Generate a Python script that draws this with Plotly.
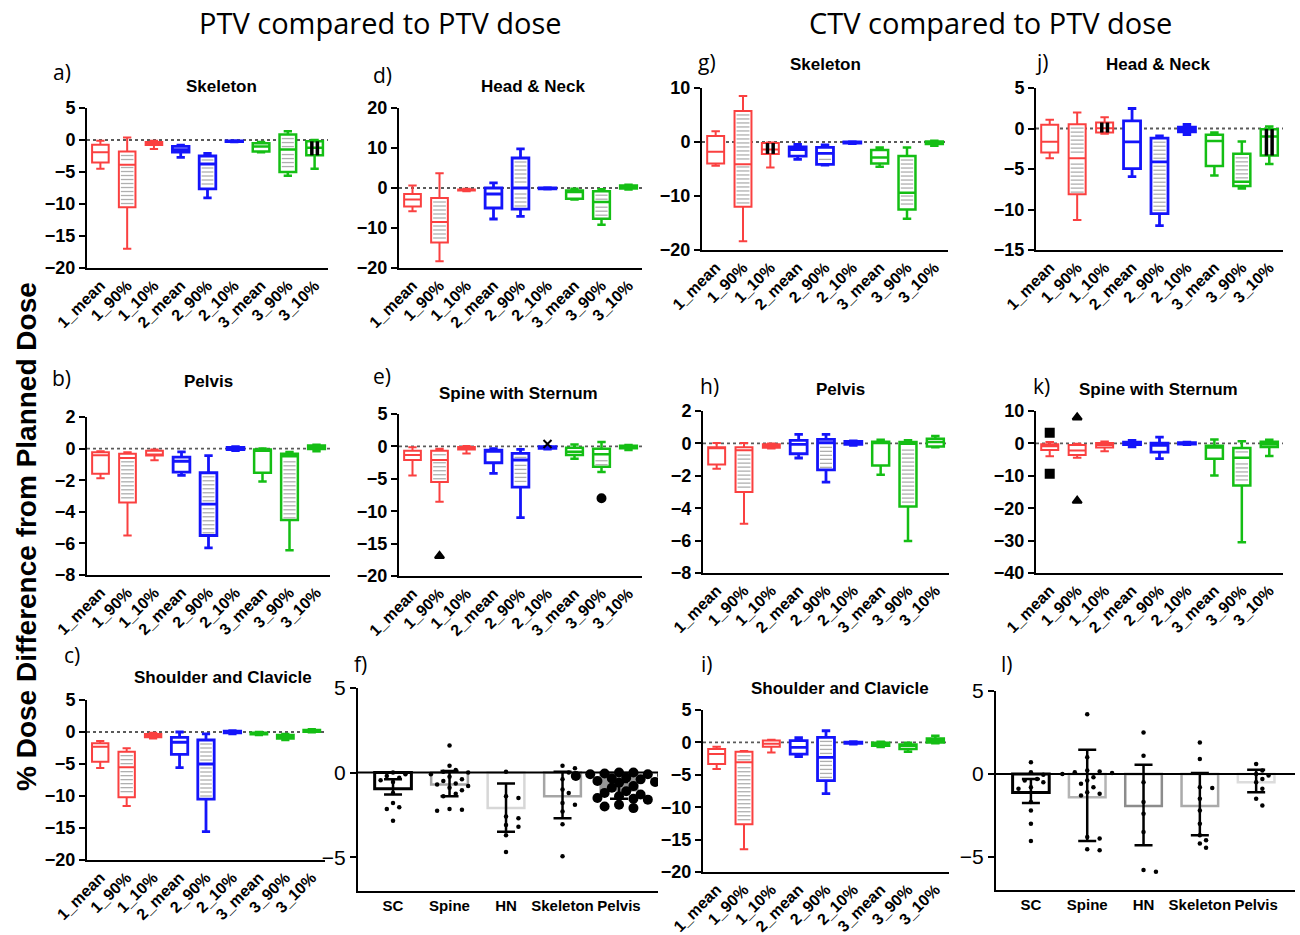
import math
import plotly.graph_objects as go

W, H = 1300, 935

CATS = ["1_mean", "1_90%", "1_10%", "2_mean", "2_90%", "2_10%", "3_mean", "3_90%", "3_10%"]
SITES = ["SC", "Spine", "HN", "Skeleton", "Pelvis"]

# ---------------- box statistics (upper whisker, Q3, median, Q1, lower whisker) ----------------
A_HI = [-0.1, 0.4, -0.1, -0.8, -2.1, -0.1, -0.3, 1.35, 0.0]
A_Q3 = [-0.73, -1.8, -0.3, -1.0, -2.5, -0.15, -0.5, 0.85, -0.2]
A_MED = [-1.9, -3.85, -0.6, -1.5, -3.75, -0.2, -1.0, -1.5, -1.2]
A_Q1 = [-3.5, -10.5, -0.8, -1.9, -7.65, -0.25, -1.8, -5.0, -2.4]
A_LO = [-4.5, -17.0, -1.4, -2.7, -9.05, -0.3, -1.9, -5.6, -4.5]

D_HI = [0.6, 3.7, -0.2, 1.3, 9.8, 0.1, -0.2, -0.3, 0.8]
D_Q3 = [-1.5, -2.5, -0.35, 0.0, 7.5, 0.0, -0.6, -0.8, 0.6]
D_MED = [-2.9, -8.5, -0.5, -1.5, 0.0, -0.1, -1.0, -3.5, 0.25]
D_Q1 = [-4.6, -13.6, -0.65, -5.0, -5.3, -0.2, -2.7, -7.7, -0.1]
D_LO = [-5.8, -18.3, -0.8, -7.75, -7.1, -0.3, -2.9, -9.2, -0.4]

G_HI = [2.0, 8.5, -0.1, -0.45, -0.55, 0.05, -1.0, -1.0, 0.25]
G_Q3 = [1.1, 5.75, -0.2, -0.9, -1.0, 0.0, -1.5, -2.6, 0.1]
G_MED = [-1.8, -4.1, -1.4, -1.4, -2.1, -0.1, -2.85, -9.4, -0.1]
G_Q1 = [-4.0, -12.0, -2.2, -2.6, -4.15, -0.2, -4.0, -12.5, -0.35]
G_LO = [-4.4, -18.4, -4.7, -3.2, -4.3, -0.3, -4.6, -14.2, -0.7]

J_HI = [1.07, 1.98, 1.4, 2.47, -0.9, 0.5, -0.5, -1.6, 0.25]
J_Q3 = [0.45, 0.54, 0.74, 0.95, -1.2, 0.16, -0.78, -3.13, -0.08]
J_MED = [-1.65, -3.67, 0.04, -1.65, -4.12, -0.16, -1.53, -6.56, -1.0]
J_Q1 = [-2.97, -8.12, -0.5, -4.95, -10.5, -0.41, -4.62, -7.1, -3.34]
J_LO = [-3.67, -11.3, -0.66, -5.94, -12.0, -0.74, -5.81, -7.42, -4.37]

B_HI = [-0.17, -0.23, -0.06, -0.21, -0.44, 0.13, 0.0, -0.21, 0.25]
B_Q3 = [-0.23, -0.33, -0.13, -0.54, -1.53, 0.08, -0.06, -0.33, 0.19]
B_MED = [-0.42, -0.59, -0.38, -0.8, -3.51, 0.0, -0.13, -0.48, 0.08]
B_Q1 = [-1.59, -3.41, -0.44, -1.49, -5.5, -0.06, -1.53, -4.52, -0.02]
B_LO = [-1.88, -5.5, -0.73, -1.69, -6.28, -0.13, -2.09, -6.44, -0.17]

E_HI = [-0.15, -0.36, 0.05, -0.36, -0.46, 0.0, 0.31, 0.67, 0.2]
E_Q3 = [-0.67, -0.67, -0.1, -0.57, -1.08, -0.05, -0.2, -0.36, 0.1]
E_MED = [-1.34, -2.1, -0.26, -0.77, -2.1, -0.15, -0.82, -1.23, -0.05]
E_Q1 = [-2.1, -5.5, -0.46, -2.52, -6.28, -0.3, -1.34, -3.14, -0.3]
E_LO = [-4.48, -8.54, -1.08, -4.17, -11.0, -0.4, -1.9, -3.96, -0.57]
E_OUT_X = [1, 5, 7]
E_OUT_Y = [-16.9, 0.36, -8.0]
E_OUT_SYM = ["triangle-up", "x-thin-open", "circle"]

H_HI = [0.02, 0.02, 0.0, 0.56, 0.56, 0.16, 0.23, 0.19, 0.45]
H_Q3 = [-0.23, -0.23, -0.06, 0.19, 0.25, 0.12, 0.1, 0.08, 0.29]
H_MED = [-0.27, -0.43, -0.16, -0.06, 0.04, 0.02, 0.02, -0.02, 0.08]
H_Q1 = [-1.3, -3.0, -0.27, -0.64, -1.63, -0.06, -1.36, -3.89, -0.19]
H_LO = [-1.56, -4.96, -0.31, -0.9, -2.39, -0.12, -1.93, -6.03, -0.23]

K_HI = [0.4, -0.1, 0.6, 0.9, 1.95, 0.4, 1.2, 0.7, 1.1]
K_Q3 = [-0.3, -0.5, 0.1, 0.4, 0.1, 0.2, -0.7, -1.4, 0.5]
K_MED = [-0.9, -2.2, -0.5, -0.1, -0.6, 0.0, -1.3, -4.4, -0.3]
K_Q1 = [-2.0, -3.6, -1.3, -0.4, -2.7, -0.2, -4.7, -13.0, -1.1]
K_LO = [-4.0, -4.4, -2.4, -1.1, -4.7, -0.4, -9.9, -30.5, -3.9]
K_OUT_X = [0, 0, 1, 1]
K_OUT_Y = [3.3, -9.4, 8.0, -17.7]
K_OUT_SYM = ["square", "square", "triangle-up", "triangle-up"]

C_HI = [-1.4, -2.55, -0.1, 0.0, -0.3, 0.2, 0.0, -0.3, 0.42]
C_Q3 = [-1.77, -3.07, -0.3, -0.83, -1.25, 0.15, -0.1, -0.47, 0.3]
C_MED = [-2.3, -5.52, -0.52, -1.6, -5.0, 0.05, -0.2, -0.73, 0.2]
C_Q1 = [-4.64, -10.2, -0.83, -3.49, -10.5, -0.15, -0.36, -1.0, 0.05]
C_LO = [-5.63, -11.56, -1.0, -5.57, -15.57, -0.3, -0.47, -1.25, -0.05]

I_HI = [-0.67, -1.33, 0.41, 0.72, 1.8, 0.1, 0.1, -0.05, 1.03]
I_Q3 = [-1.03, -1.44, 0.31, 0.26, 0.77, 0.05, -0.05, -0.31, 0.62]
I_MED = [-1.8, -3.08, -0.2, -0.77, -2.31, -0.05, -0.26, -0.51, 0.31]
I_Q1 = [-3.34, -12.63, -0.67, -1.8, -5.9, -0.15, -0.51, -1.03, 0.0]
I_LO = [-4.1, -16.5, -1.54, -2.2, -7.9, -0.25, -0.72, -1.44, -0.15]

# ---------------- bar panels (f: PTV, l: CTV) ----------------
F_MEAN = [-0.95, -0.7, -2.1, -1.4, -1.05]
F_ERR_HI = [-0.4, 0.1, -0.65, 0.05, -0.55]
F_ERR_LO = [-1.3, -1.4, -3.5, -2.7, -1.55]
F_SC = [0.0, -0.1, -0.2, -0.3, -0.45, -0.55, -1.2, -1.8, -2.05, -2.15, -2.85]
F_SPINE = [1.6, 0.4, 0.15, 0.05, 0.0, -0.1, -0.25, -0.4, -0.5, -0.65, -0.7, -0.8, -0.9,
           -1.05, -1.25, -1.4, -2.15, -2.2, -2.25]
F_HN = [0.05, -1.4, -1.5, -2.6, -2.7, -3.1, -3.2, -3.7, -4.7]
F_SKEL = [0.4, 0.25, 0.0, -0.4, -1.0, -1.2, -1.8, -1.9, -2.3, -3.05, -4.95]
F_PELVIS = [0.0, 0.0, -0.05, -0.1, -0.1, -0.15, -0.2, -0.2, -0.3, -0.35, -0.4, -0.5, -0.55,
            -0.6, -0.8, -0.9, -1.1, -1.2, -1.3, -1.4, -1.5, -1.55, -1.6, -1.9, -2.0, -2.1]

L_MEAN = [-1.12, -1.4, -1.94, -1.94, -0.5]
L_ERR_HI = [-0.3, 1.45, 0.55, 0.05, 0.25]
L_ERR_LO = [-1.75, -4.05, -4.3, -3.7, -1.1]
L_SC = [0.7, 0.1, -0.05, -0.3, -0.4, -0.5, -0.8, -0.9, -1.7, -2.2, -3.0, -4.05]
L_SPINE = [3.6, 1.0, 0.2, 0.15, 0.1, 0.05, 0.0, -0.2, -0.4, -0.6, -0.8, -1.1, -1.2, -1.3,
           -3.8, -3.9, -4.55, -4.6]
L_HN = [2.5, 1.1, -0.5, -1.7, -2.4, -3.5, -5.8, -5.9]
L_SKEL = [1.9, 0.9, -0.8, -0.85, -1.5, -2.2, -3.0, -3.7, -4.0, -4.2, -4.45]
L_PELVIS = [0.6, 0.2, 0.0, -0.1, -0.3, -0.5, -0.9, -1.5, -1.9]

# ---------------- styling / layout ----------------
RED, BLUE, GREEN = "rgb(250,64,64)", "rgb(20,20,250)", "rgb(20,190,20)"
GROUP_COLORS = [RED, BLUE, GREEN]
GROUP_WIDTHS = [2.0, 2.8, 2.5]
HATCH_GRAY = "rgb(175,175,175)"
FONT = "Liberation Sans"

BOX_DATA = {
    "a": (A_HI, A_Q3, A_MED, A_Q1, A_LO),
    "d": (D_HI, D_Q3, D_MED, D_Q1, D_LO),
    "g": (G_HI, G_Q3, G_MED, G_Q1, G_LO),
    "j": (J_HI, J_Q3, J_MED, J_Q1, J_LO),
    "b": (B_HI, B_Q3, B_MED, B_Q1, B_LO),
    "e": (E_HI, E_Q3, E_MED, E_Q1, E_LO),
    "h": (H_HI, H_Q3, H_MED, H_Q1, H_LO),
    "k": (K_HI, K_Q3, K_MED, K_Q1, K_LO),
    "c": (C_HI, C_Q3, C_MED, C_Q1, C_LO),
    "i": (I_HI, I_Q3, I_MED, I_Q1, I_LO),
}
OUTLIERS = {"e": (E_OUT_X, E_OUT_Y, E_OUT_SYM), "k": (K_OUT_X, K_OUT_Y, K_OUT_SYM)}
# which boxes get horizontal grey hatching / vertical black stripes
HHATCH = {"d": [0], "b": [2], "e": [0]}
VSTRIPE = {"a": [8], "g": [2], "j": [2, 8]}

# panel geometry in page pixels: (x0, x1, y0, y1), y range, tick step, title, title pos, letter pos
PANELS = [
    ("a", (87, 328, 108, 268), (-20, 5), 5, "Skeleton", (222, 86), (62, 72)),
    ("d", (399, 642, 108, 268), (-20, 20), 10, "Head & Neck", (533, 86), (382, 75)),
    ("g", (702, 948, 88, 250), (-20, 10), 10, "Skeleton", (825, 64), (707, 62)),
    ("j", (1036, 1283, 88, 250), (-15, 5), 5, "Head & Neck", (1158, 64), (1042, 62)),
    ("b", (87, 330, 417, 575), (-8, 2), 2, "Pelvis", (208, 381), (61, 378)),
    ("e", (399, 642, 414, 576), (-20, 5), 5, "Spine with Sternum", (518, 393), (382, 376)),
    ("h", (703, 949, 411, 573), (-8, 2), 2, "Pelvis", (840, 389), (710, 386)),
    ("k", (1036, 1283, 411, 573), (-40, 10), 10, "Spine with Sternum", (1158, 389), (1041, 386)),
    ("c", (87, 325, 700, 860), (-20, 5), 5, "Shoulder and Clavicle", (223, 677), (72, 655)),
    ("f", (358, 658, 688, 891), (-7, 5), 5, None, None, (360, 664)),
    ("i", (703, 949, 710, 872), (-20, 5), 5, "Shoulder and Clavicle", (840, 688), (707, 664)),
    ("l", (996, 1295, 691, 890), (-7, 5), 5, None, None, (1007, 664)),
]

BAR_DATA = {
    "f": dict(mean=F_MEAN, hi=F_ERR_HI, lo=F_ERR_LO, dots=[F_SC, F_SPINE, F_HN, F_SKEL, F_PELVIS],
              edge=["black", "rgb(165,165,165)", "rgb(215,215,215)", "rgb(165,165,165)", "rgb(150,150,150)"],
              fill=["white", "white", "white", "white", "rgb(150,150,150)"],
              dotsize=[4.5, 4.5, 4.5, 4.5, 10], spread=[1.2, 1.2, 1.2, 1.2, 0.65]),
    "l": dict(mean=L_MEAN, hi=L_ERR_HI, lo=L_ERR_LO, dots=[L_SC, L_SPINE, L_HN, L_SKEL, L_PELVIS],
              edge=["black", "rgb(180,180,180)", "rgb(140,140,140)", "rgb(170,170,170)", "rgb(220,220,220)"],
              fill=["white"] * 5,
              dotsize=[4.5] * 5, spread=[1.2] * 5),
}
BAR_XRANGE = (-0.62, 4.69)
BOX_XRANGE = (-0.5, 8.5)
BOX_W = 0.62


def swarm(vals, px_per_x, px_per_y, diam):
    """Deterministic beeswarm: offset points sideways only where they would overlap."""
    placed = []
    offs = []
    for v in vals:
        k = 0
        while True:
            off = ((k + 1) // 2) * diam * 0.9 * (1 if k % 2 else -1)
            ok = all(math.hypot(off - po, (v - pv) * px_per_y) >= diam for po, pv in placed)
            if ok:
                break
            k += 1
        placed.append((off, v))
        offs.append(off / px_per_x)
    return offs


fig = go.Figure()
layout = dict(width=W, height=H, autosize=False, margin=dict(l=0, r=0, t=0, b=0, autoexpand=False),
              plot_bgcolor="white", paper_bgcolor="white", showlegend=False, template="none")
shapes, annotations = [], []

for n, (key, (x0, x1, y0, y1), yr, dt, title, tpos, lpos) in enumerate(PANELS, start=1):
    xa, ya = ("x", "y") if n == 1 else (f"x{n}", f"y{n}")
    xk, yk = ("xaxis", "yaxis") if n == 1 else (f"xaxis{n}", f"yaxis{n}")
    is_bar = key in BAR_DATA
    xr = BAR_XRANGE if is_bar else BOX_XRANGE
    plot_h = y1 - y0
    plot_w = x1 - x0
    px_per_y = plot_h / (yr[1] - yr[0])
    px_per_x = plot_w / (xr[1] - xr[0])

    layout[xk] = dict(domain=[x0 / W, x1 / W], range=list(xr), anchor=ya, automargin=False,
                      tickvals=list(range(len(SITES) if is_bar else len(CATS))),
                      ticktext=SITES if is_bar else CATS,
                      tickangle=0 if is_bar else -45,
                      tickfont=dict(family=FONT, size=15 if is_bar else 16, color="black", weight="bold"),
                      showline=True, linecolor="black", linewidth=2, ticks="",
                      showgrid=False, zeroline=False, fixedrange=True)
    ticks = list(range(yr[0] if not is_bar else -5, yr[1] + 1, dt))
    layout[yk] = dict(domain=[1 - y1 / H, 1 - y0 / H], range=list(yr), anchor=xa, automargin=False,
                      tickvals=ticks, ticks="outside", ticklen=6, tickwidth=2, tickcolor="black",
                      tickfont=(dict(family=FONT, size=21, color="black") if is_bar else
                                dict(family=FONT, size=18, color="black", weight="bold")),
                      showline=True, linecolor="black", linewidth=2,
                      showgrid=False, zeroline=False, fixedrange=True)

    if is_bar:
        bd = BAR_DATA[key]
        xs = list(range(len(SITES)))
        fig.add_trace(go.Bar(
            x=xs, y=bd["mean"], width=0.65, xaxis=xa, yaxis=ya,
            marker=dict(color=bd["fill"], line=dict(color=bd["edge"], width=[3, 2.5, 2.5, 2.5, 2.5])),
            error_y=dict(type="data", symmetric=False,
                         array=[h - m for h, m in zip(bd["hi"], bd["mean"])],
                         arrayminus=[m - l for l, m in zip(bd["lo"], bd["mean"])],
                         color="black", thickness=2.5, width=9),
            hoverinfo="skip"))
        for ci, vals in enumerate(bd["dots"]):
            size = bd["dotsize"][ci]
            offs = swarm(vals, px_per_x, px_per_y, size * bd["spread"][ci] + 1.5)
            fig.add_trace(go.Scatter(
                x=[ci + o for o in offs], y=vals, mode="markers", xaxis=xa, yaxis=ya,
                marker=dict(color="black", size=size, line=dict(width=0)), hoverinfo="skip"))
        shapes.append(dict(type="line", xref=f"{xa} domain", yref=ya, x0=0, x1=1, y0=0, y1=0,
                           line=dict(color="black", width=2), layer="above"))
    else:
        hi, q3, med, q1, lo = BOX_DATA[key]
        shapes.append(dict(type="line", xref=f"{xa} domain", yref=ya, x0=0, x1=1, y0=0, y1=0,
                           line=dict(color="rgb(90,90,90)", width=1.8, dash="dot"), layer="below"))
        step = 4.0 / px_per_y
        for idx in range(len(CATS)):
            g = idx // 3
            color, lw = GROUP_COLORS[g], GROUP_WIDTHS[g]
            fig.add_trace(go.Box(
                x=[idx], q1=[q1[idx]], median=[med[idx]], q3=[q3[idx]],
                lowerfence=[lo[idx]], upperfence=[hi[idx]], orientation="v",
                width=BOX_W, whiskerwidth=0.5, boxpoints=False,
                line=dict(color=color, width=lw), fillcolor="white",
                xaxis=xa, yaxis=ya, hoverinfo="skip"))
            # horizontal grey hatching
            if CATS[idx].endswith("90%") or idx in HHATCH.get(key, []):
                hx, hy = [], []
                yv = q3[idx] - step
                inset = (lw / 2 + 1) / px_per_x
                while yv > q1[idx] + step * 0.5:
                    if abs(yv - med[idx]) * px_per_y > 2.5:
                        hx += [idx - BOX_W / 2 + inset, idx + BOX_W / 2 - inset, None]
                        hy += [yv, yv, None]
                    yv -= step
                if hx:
                    fig.add_trace(go.Scatter(x=hx, y=hy, mode="lines", xaxis=xa, yaxis=ya,
                                             line=dict(color=HATCH_GRAY, width=1.3), hoverinfo="skip"))
            if idx in VSTRIPE.get(key, []):
                vx, vy = [], []
                for f in (-1 / 6, 1 / 6):
                    vx += [idx + f * BOX_W, idx + f * BOX_W, None]
                    vy += [q3[idx], q1[idx], None]
                fig.add_trace(go.Scatter(x=vx, y=vy, mode="lines", xaxis=xa, yaxis=ya,
                                         line=dict(color="black", width=3.5), hoverinfo="skip"))
        if key in OUTLIERS:
            ox, oy, osym = OUTLIERS[key]
            fig.add_trace(go.Scatter(x=ox, y=oy, mode="markers", xaxis=xa, yaxis=ya,
                                     marker=dict(color="black", size=8, symbol=osym,
                                                 line=dict(color="black", width=2)),
                                     hoverinfo="skip"))
        annotations.append(dict(text=title, xref="paper", yref="paper", x=tpos[0] / W, y=1 - tpos[1] / H,
                                xanchor="center", yanchor="middle", showarrow=False,
                                font=dict(family=FONT, size=17, color="black", weight="bold")))
    annotations.append(dict(text=f"{key})", xref="paper", yref="paper", x=lpos[0] / W, y=1 - lpos[1] / H,
                            xanchor="center", yanchor="middle", showarrow=False,
                            font=dict(family="Open Sans", size=21, color="black")))

annotations += [
    dict(text="PTV compared to PTV dose", xref="paper", yref="paper", x=380 / W, y=1 - 22 / H,
         xanchor="center", yanchor="middle", showarrow=False,
         font=dict(family="Open Sans", size=29, color="black")),
    dict(text="CTV compared to PTV dose", xref="paper", yref="paper", x=990 / W, y=1 - 22 / H,
         xanchor="center", yanchor="middle", showarrow=False,
         font=dict(family="Open Sans", size=29, color="black")),
    dict(text="% Dose Difference from Planned Dose", xref="paper", yref="paper", x=26 / W, y=1 - 537 / H,
         xanchor="center", yanchor="middle", showarrow=False, textangle=-90,
         font=dict(family=FONT, size=28, color="black", weight="bold")),
]

layout["shapes"] = shapes
layout["annotations"] = annotations
layout["boxmode"] = "overlay"
fig.update_layout(**layout)
fig.write_html("out.html", config={"displayModeBar": False},
               post_script="document.body.style.margin='0px';")
